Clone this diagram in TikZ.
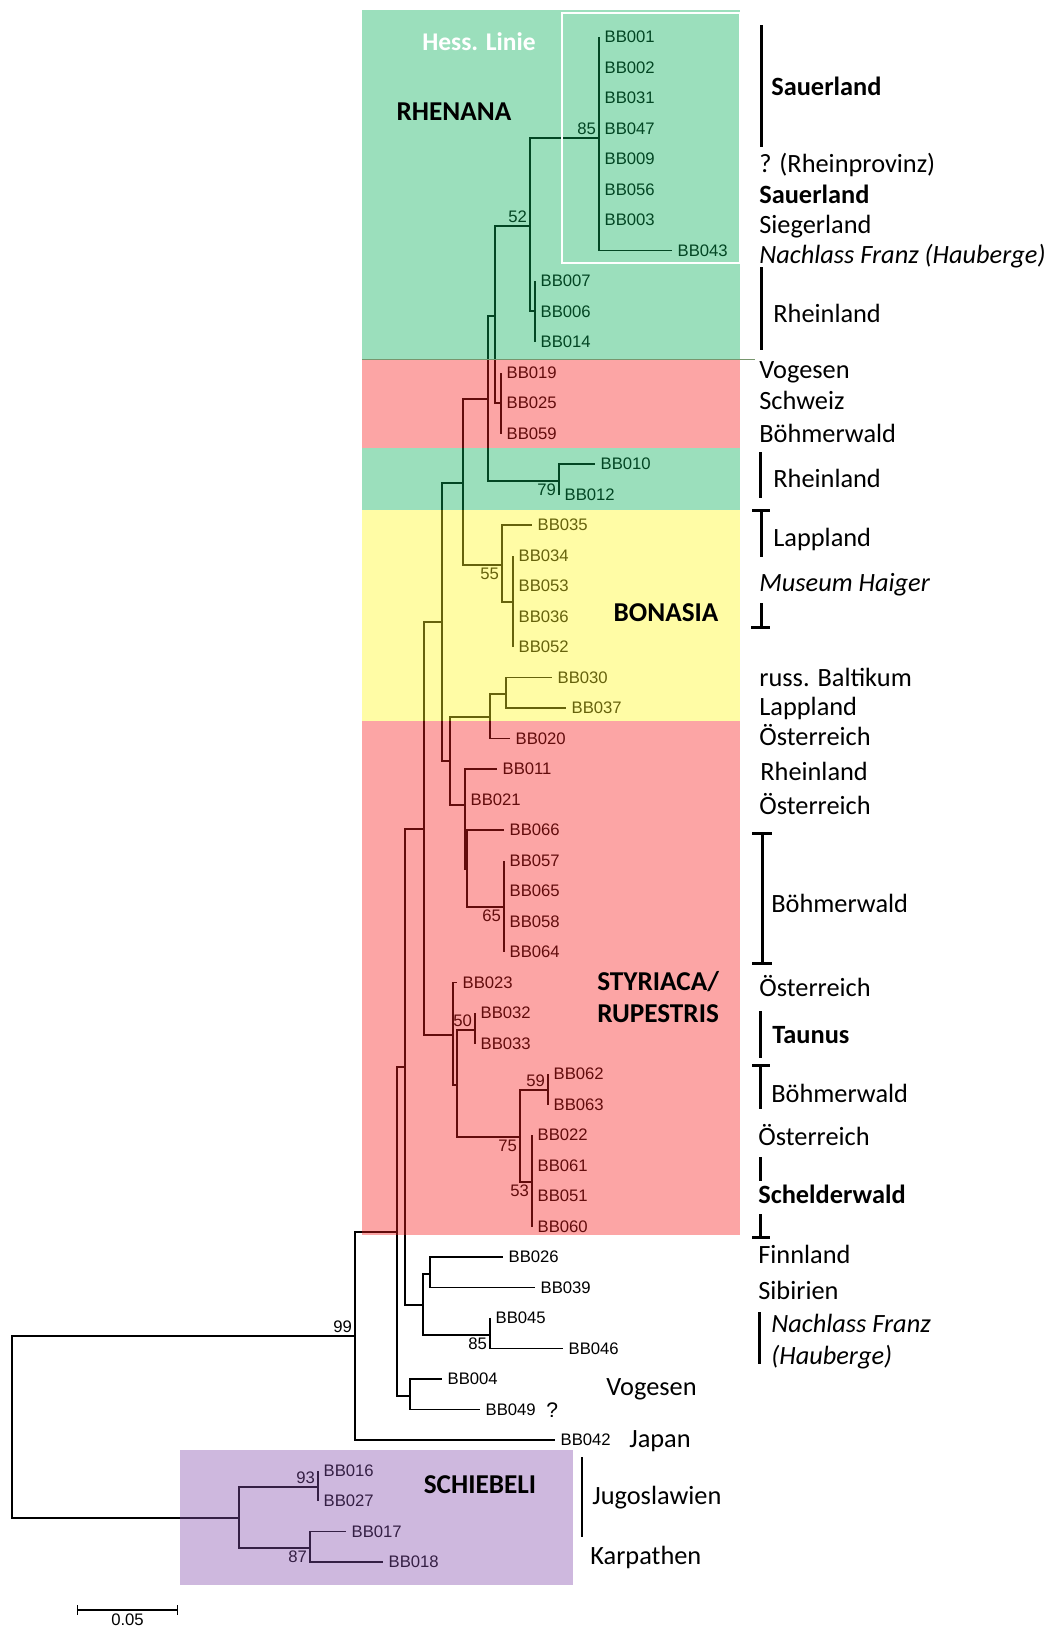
\documentclass[tikz,border=0pt]{standalone}
\usepackage{fontspec}
\setmainfont{Carlito}
\newfontfamily\treefont{Liberation Sans}
\usepackage{tikz}
\usetikzlibrary{arrows.meta}
\definecolor{rhenGreen}{RGB}{5,175,88}
\definecolor{styrRed}{RGB}{247,30,30}
\definecolor{bonaYellow}{RGB}{255,247,30}
\definecolor{schiPurple}{RGB}{132,78,172}
\definecolor{edgeLine}{RGB}{120,150,110}
\newcommand{\leafFont}{\treefont\fontsize{9.5}{11}\selectfont}
\newcommand{\placeFont}{\fontsize{15}{17.5}\selectfont}
\newcommand{\cladeFont}{\bfseries\fontsize{15.5}{18}\selectfont}

\begin{document}
\begin{tikzpicture}[x=0.02cm, y=-0.02cm,
	branch/.style={line width=0.8pt},
	leaf/.style={font=\leafFont, anchor=west, inner xsep=3pt, inner ysep=0pt, text height=6.8pt, text depth=0pt},
	boot/.style={font=\leafFont, inner sep=1.5pt},
	place/.style={font=\placeFont, anchor=west, inner sep=0pt, text height=11.2pt, text depth=2.3pt},
	clade/.style={font=\cladeFont, inner sep=0pt},
	bar/.style={line width=1.7pt},
	region/.style={fill opacity=0.4}]
	\useasboundingbox (0,0) rectangle (1054,1627);
	\begin{scope}
		\foreach \nodeName/\xCoord/\yCoord in {hessLinie/599/138, rhenLow/535/311, rhen52/530/226, vogesen/501/403, rhenA/495/316, rhen79/559/481, rhenB/488/399, bonaFour/513/602, bona55/502/565, upperC/463/483, baltic/506/694, balticB/490/717, boehm65/504/907, boehmF/467/869, austriaE/465/805, midG/450/761, upperH/442/622, taunus50/475/1030, boehm59/548/1090, schelder53/532/1182, styr75/520/1137, styrI/457/1085, styrJ/453/1035, coreZ/424/829, finnSib/430/1274, franz85/490/1335, franzV/423/1305, coreY/405/1067, vosgesB/410/1396, coreW/397/1232, ingroup99/355/1336, schieb93/318/1487, schieb87/310/1548, schieb/239/1518, root/12/1427}
		{
			\coordinate (\nodeName) at (\xCoord, \yCoord);
		}
		\foreach \parentName/\childName in {rhen52/hessLinie, rhen52/rhenLow, rhenA/rhen52, rhenA/vogesen, rhenB/rhenA, rhenB/rhen79, bona55/bonaFour, upperC/rhenB, upperC/bona55, balticB/baltic, midG/balticB, midG/austriaE, austriaE/boehmF, boehmF/boehm65, upperH/upperC, upperH/midG, coreZ/upperH, coreZ/styrJ, styrJ/styrI, styrI/taunus50, styrI/styr75, styr75/boehm59, styr75/schelder53, coreY/coreZ, coreY/franzV, franzV/finnSib, franzV/franz85, coreW/coreY, coreW/vosgesB, ingroup99/coreW, root/ingroup99, root/schieb, schieb/schieb93, schieb/schieb87}
		{
			\draw[branch] (\parentName) |- (\childName);
		}
		\foreach \parentName/\row/\tipX/\leafName in {hessLinie/1/599/BB001, hessLinie/2/599/BB002, hessLinie/3/599/BB031, hessLinie/4/599/BB047, hessLinie/5/599/BB009, hessLinie/6/599/BB056, hessLinie/7/599/BB003, hessLinie/8/672/BB043, rhenLow/9/535/BB007, rhenLow/10/535/BB006, rhenLow/11/535/BB014, vogesen/12/501/BB019, vogesen/13/501/BB025, vogesen/14/501/BB059, rhen79/15/595/BB010, rhen79/16/559/BB012, bona55/17/532/BB035, bonaFour/18/513/BB034, bonaFour/19/513/BB053, bonaFour/20/513/BB036, bonaFour/21/513/BB052, baltic/22/552/BB030, baltic/23/566/BB037, balticB/24/510/BB020, austriaE/25/497/BB011, austriaE/26/465/BB021, boehmF/27/504/BB066, boehm65/28/504/BB057, boehm65/29/504/BB065, boehm65/30/504/BB058, boehm65/31/504/BB064, styrJ/32/457/BB023, taunus50/33/475/BB032, taunus50/34/475/BB033, boehm59/35/548/BB062, boehm59/36/548/BB063, schelder53/37/532/BB022, schelder53/38/532/BB061, schelder53/39/532/BB051, schelder53/40/532/BB060, finnSib/41/503/BB026, finnSib/42/535/BB039, franz85/43/490/BB045, franz85/44/563/BB046, vosgesB/45/442/BB004, vosgesB/46/480/BB049, ingroup99/47/555/BB042, schieb93/48/318/BB016, schieb93/49/318/BB027, schieb87/50/346/BB017, schieb87/51/383/BB018}
		{
			\node[leaf] (\leafName) at (\tipX, {37+(\row-1)*30.5}) {\leafName};
			\draw[branch] (\parentName) |- (\leafName.west);
		}
		\foreach \nodeName/\bootValue/\side in {hessLinie/85/south east, rhen52/52/south east, rhen79/79/north east, bona55/55/north east, boehm65/65/north east, taunus50/50/south east, boehm59/59/south east, styr75/75/north east, schelder53/53/north east, franz85/85/north east, ingroup99/99/south east, schieb93/93/south east, schieb87/87/north east}
		{
			\node[boot, anchor=\side] (boot-\nodeName) at (\nodeName) {\bootValue};
		}
	\end{scope}
	\fill[rhenGreen, region] (362,10) rectangle (740,359);
	\fill[styrRed, region] (362,359) rectangle (740,448);
	\fill[rhenGreen, region] (362,448) rectangle (740,510);
	\fill[bonaYellow, region] (362,510) rectangle (740,721);
	\fill[styrRed, region] (362,721) rectangle (740,1235);
	\fill[schiPurple, region] (180,1450) rectangle (573,1585);
	\draw[edgeLine, line width=0.5pt] (362,359) -- (755,359);
	\draw[white, line width=1.2pt] (562,13) rectangle (740,263);
	\node[clade, white, font=\bfseries\fontsize{14.5}{16}\selectfont] (hessLabel) at (479,42) {Hess. Linie};
	\node[clade] (rhenanaLabel) at (454,112) {RHENANA};
	\node[clade] (bonasiaLabel) at (666,613) {BONASIA};
	\node[clade, anchor=west, align=left] (styrLabel) at (597,997) {STYRIACA/\\RUPESTRIS};
	\node[clade] (schiebeliLabel) at (480,1485) {SCHIEBELI};
	\foreach \xCoord/\yCoord/\placeName [count=\placeIndex] in {771/88/{\textbf{Sauerland}}, 759/165/{? (Rheinprovinz)}, 759/196/{\textbf{Sauerland}}, 759/226/{Siegerland}, 759/256/{\textit{Nachlass Franz (Hauberge)}}, 773/315/{Rheinland}, 759/371/{Vogesen}, 759/402/{Schweiz}, 759/435/{Böhmerwald}, 773/480/{Rheinland}, 773/539/{Lappland}, 759/584/{\textit{Museum Haiger}}, 759/679/{russ. Baltikum}, 759/708/{Lappland}, 759/738/{Österreich}, 760/773/{Rheinland}, 759/807/{Österreich}, 771/905/{Böhmerwald}, 759/989/{Österreich}, 772/1036/{\textbf{Taunus}}, 771/1095/{Böhmerwald}, 758/1138/{Österreich}, 758/1196/{\textbf{Schelderwald}}, 758/1256/{Finnland}, 758/1292/{Sibirien}, 771/1325/{\textit{Nachlass Franz}}, 771/1357/{\textit{(Hauberge)}}, 606/1388/{Vogesen}, 629/1440/{Japan}, 592/1497/{Jugoslawien}, 590/1557/{Karpathen}}
	{
		\node[place] (place-\placeIndex) at (\xCoord, \yCoord) {\placeName};
	}
	\node[place, font=\treefont\fontsize{12}{14}\selectfont] (unknownMark) at (546,1410) {?};
	\draw[bar] (761,25) -- (761,147);
	\draw[bar] (761,267) -- (761,350);
	\draw[bar] (760,452) -- (760,498);
	\draw[bar] (752,510) -- ++(18,0) (761,510) -- ++(0,47);
	\draw[bar] (761,603) -- ++(0,24) (751,627) -- ++(19,0);
	\draw[bar] (752,833) -- ++(20,0) (762,833) -- (762,963) (752,963) -- ++(20,0);
	\draw[bar] (760,1011) -- (760,1058);
	\draw[bar] (752,1065) -- ++(18,0) (760,1065) -- ++(0,44);
	\draw[bar] (760,1157) -- (760,1181);
	\draw[bar] (760,1214) -- ++(0,23) (752,1237) -- ++(18,0);
	\draw[bar] (759,1312) -- (759,1364);
	\draw[bar] (582,1457) -- (582,1537);
	\coordinate (scaleLeft) at (77,1610);
	\coordinate (scaleRight) at (178,1610);
	\draw[branch, {Bar[width=5.5pt]}-{Bar[width=5.5pt]}] (scaleLeft) -- (scaleRight) node[midway, anchor=north, font=\leafFont, inner sep=2pt] (scaleText) {0.05};
\end{tikzpicture}
\end{document}
